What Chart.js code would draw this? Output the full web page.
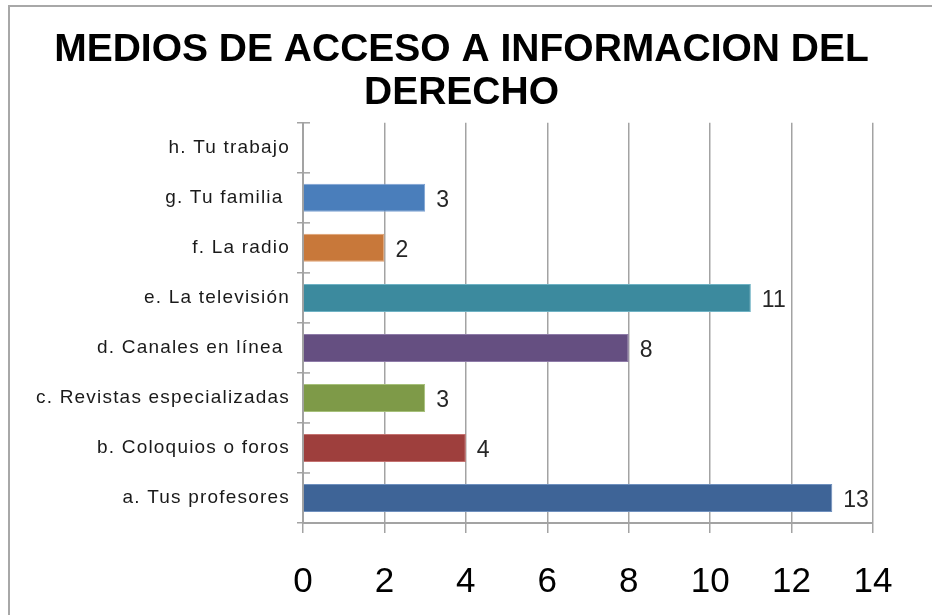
<!DOCTYPE html>
<html><head><meta charset="utf-8">
<script src="https://cdn.jsdelivr.net/npm/chart.js@4/dist/chart.umd.min.js"></script>
<style>
html,body{margin:0;padding:0;background:#fff;overflow:hidden}
#frame{position:absolute;left:8px;top:5px;width:1000px;height:700px;border-left:2px solid #a8a8a8;border-top:2px solid #a8a8a8}
#wrap{position:absolute;left:0;top:0;width:932px;height:615px}
</style></head><body>
<div id="frame"></div>
<div id="wrap"><canvas id="c" width="932" height="615"></canvas></div>
<script>
const titleLines = ["MEDIOS DE ACCESO A INFORMACION DEL", "DERECHO"];
const categories = ["h. Tu trabajo", "g. Tu familia ", "f. La radio", "e. La televisión", "d. Canales en línea ", "c. Revistas especializadas", "b. Coloquios o foros", "a. Tus profesores"];
const values = [0, 3, 2, 11, 8, 3, 4, 13];
const xMin = 0, xMax = 14, xStep = 2;

const barColors = ["#4A7EBB", "#4A7EBB", "#C8783A", "#3C8A9E", "#654F81", "#7E9A48", "#9E3F3D", "#3E6497"];
const barEdges  = ["#7FA3D3", "#7FA3D3", "#E0A070", "#6FB2C4", "#8E7BA8", "#A6C07A", "#C47270", "#6F90BE"];
const FONT = "'Liberation Sans', Arial, sans-serif";
const GRID = "#a3a3a3";

const labelSpacing = {
  id: 'labelSpacing',
  beforeDraw(chart) {
    const s = chart.scales.y;
    if (s && !s._spaced) {
      const orig = s.drawLabels;
      s.drawLabels = function (area) {
        const ctx = this.ctx;
        ctx.save();
        ctx.letterSpacing = '1.2px';
        orig.call(this, area);
        ctx.restore();
      };
      s._spaced = true;
    }
  }
};

const crossTicks = {
  id: 'crossTicks',
  afterDraw(chart) {
    const s = chart.scales.y;
    const n = s.ticks.length;
    const ctx = chart.ctx;
    const band = s.getPixelForValue(1) - s.getPixelForValue(0);
    ctx.save();
    ctx.strokeStyle = GRID;
    ctx.lineWidth = 1.5;
    for (let i = 0; i < n; i++) {
      const y = s.getPixelForValue(i) - band / 2;
      ctx.beginPath();
      ctx.moveTo(s.right, y);
      ctx.lineTo(s.right + 7, y);
      ctx.stroke();
    }
    ctx.restore();
  }
};

const valueLabels = {
  id: 'valueLabels',
  afterDatasetsDraw(chart) {
    const ctx = chart.ctx;
    const meta = chart.getDatasetMeta(0);
    ctx.save();
    ctx.font = "23px " + FONT;
    ctx.fillStyle = "#262626";
    ctx.textAlign = "left";
    ctx.textBaseline = "middle";
    meta.data.forEach((el, i) => {
      const v = chart.data.datasets[0].data[i];
      if (!v) return;
      ctx.fillText(String(v), el.x + 11, el.y + 3);
    });
    ctx.restore();
  }
};

new Chart(document.getElementById('c'), {
  type: 'bar',
  data: {
    labels: categories,
    datasets: [{
      data: values,
      backgroundColor: barColors,
      borderColor: barEdges,
      borderWidth: 1,
      barPercentage: 0.56,
      categoryPercentage: 1
    }]
  },
  options: {
    indexAxis: 'y',
    responsive: false,
    devicePixelRatio: 1,
    animation: false,
    layout: { padding: { left: 0, right: 9, top: 0, bottom: 12 } },
    plugins: {
      legend: { display: false },
      tooltip: { enabled: false },
      title: {
        display: true,
        text: titleLines,
        color: '#000',
        font: { family: FONT, size: 39, weight: 'bold', lineHeight: 1.1 },
        padding: { top: 29, bottom: 8 }
      }
    },
    scales: {
      x: {
        min: xMin, max: xMax,
        afterFit(s) { s.height = 80; },
        ticks: { stepSize: xStep, color: '#000', font: { family: FONT, size: 35 }, padding: 28 },
        grid: { color: GRID, lineWidth: 1.5, tickLength: 10, drawTicks: true },
        border: { display: true, color: GRID, width: 2 }
      },
      y: {
        afterFit(s) { s.width = 303; },
        ticks: { color: '#1a1a1a', font: { family: FONT, size: 19 }, padding: 7 },
        grid: { drawOnChartArea: false, drawTicks: true, tickLength: 6, offset: true, color: GRID, lineWidth: 1.5 },
        border: { display: true, color: GRID, width: 2 }
      },
      y2: {
        type: 'category',
        position: 'right',
        labels: categories,
        afterFit(s) { s.width = 50; },
        ticks: { display: false },
        grid: { display: false },
        border: { display: false }
      }
    }
  },
  plugins: [labelSpacing, crossTicks, valueLabels]
});
</script>
</body></html>
